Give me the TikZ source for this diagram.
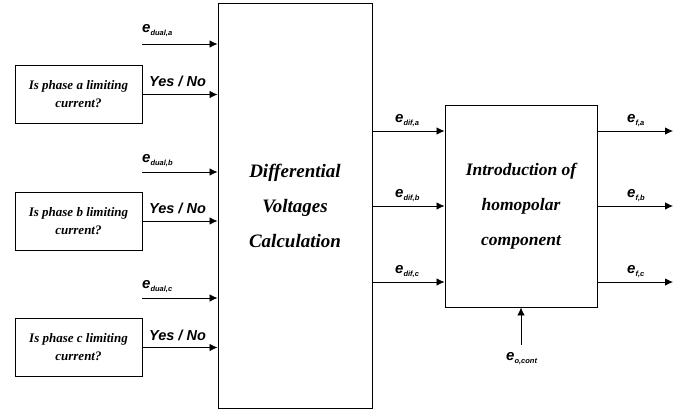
\documentclass[tikz,border=0pt]{standalone}
\usepackage{fontspec}
\setmainfont{Liberation Serif}
\setsansfont{Liberation Sans}
\usetikzlibrary{arrows.meta}
\newcommand{\elab}[1]{e\raisebox{-3pt}{\fontsize{7.5}{8}\selectfont #1}}
\begin{document}
\begin{tikzpicture}[x=1pt,y=-1pt,
 box/.style={draw, line width=0.9pt, inner sep=0pt},
 qbox/.style={box, minimum width=127pt, minimum height=58pt, font=\fontsize{13}{18}\selectfont\bfseries\itshape, align=center},
 bigtxt/.style={font=\fontsize{19}{35}\selectfont\bfseries\itshape, align=center},
 homotxt/.style={font=\fontsize{17.5}{35}\selectfont\bfseries\itshape, align=center},
 arr/.style={-{Latex[length=8pt,width=7.5pt]}, line width=0.8pt},
 lbl/.style={font=\sffamily\bfseries\itshape\fontsize{14.5}{16}\selectfont, inner sep=0pt, anchor=base west},
 elbl/.style={font=\sffamily\bfseries\itshape\fontsize{15}{16}\selectfont, inner sep=0pt, anchor=base west}]
\useasboundingbox (0,0) rectangle (694,416);

% main blocks
\node[box, bigtxt, minimum width=154pt, minimum height=405pt] (calc) at (295,205.5) {Differential\\Voltages\\Calculation};
\node[box, homotxt, minimum width=152pt, minimum height=202pt] (homo) at (521,206) {Introduction of\\homopolar\\component};

% question boxes
\node[qbox] (qa) at (78.5,94.5) {Is phase a limiting\\current?};
\node[qbox] (qb) at (78.5,221) {Is phase b limiting\\current?};
\node[qbox] (qc) at (78.5,347.5) {Is phase c limiting\\current?};

% e_dual inputs
\coordinate (da) at (142,44);
\coordinate (db) at (142,172);
\coordinate (dc) at (142,298);
\draw[arr] (da) -- (calc.west |- da);
\draw[arr] (db) -- (calc.west |- db);
\draw[arr] (dc) -- (calc.west |- dc);
\node[elbl] (lda) at (142,32) {\elab{dual,a}};
\node[elbl] (ldb) at (142,162) {\elab{dual,b}};
\node[elbl] (ldc) at (142,288) {\elab{dual,c}};

% Yes/No
\draw[arr] (qa.east) -- (calc.west |- qa.east);
\draw[arr] (qb.east) -- (calc.west |- qb.east);
\draw[arr] (qc.east) -- (calc.west |- qc.east);
\node[lbl] (yna) at (149,86) {Yes / No};
\node[lbl] (ynb) at (149,213) {Yes / No};
\node[lbl] (ync) at (149,340) {Yes / No};

% differential voltages
\coordinate (fa) at (372,131);
\coordinate (fb) at (372,206);
\coordinate (fc) at (372,282);
\draw[arr] (fa) -- (homo.west |- fa);
\draw[arr] (fb) -- (homo.west |- fb);
\draw[arr] (fc) -- (homo.west |- fc);
\node[elbl] (lfa) at (395,122) {\elab{dif,a}};
\node[elbl] (lfb) at (395,197) {\elab{dif,b}};
\node[elbl] (lfc) at (395,273) {\elab{dif,c}};

% outputs
\coordinate (oa) at (673,131);
\coordinate (ob) at (673,206);
\coordinate (oc) at (673,282);
\draw[arr] (homo.east |- oa) -- (oa);
\draw[arr] (homo.east |- ob) -- (ob);
\draw[arr] (homo.east |- oc) -- (oc);
\node[elbl] (loa) at (627,122) {\elab{f,a}};
\node[elbl] (lob) at (627,197) {\elab{f,b}};
\node[elbl] (loc) at (627,273) {\elab{f,c}};

% homopolar input
\coordinate (hc) at (521,345);
\draw[arr] (hc) -- (homo.south);
\node[elbl] (lhc) at (506,360) {\elab{o,cont}};
\end{tikzpicture}
\end{document}
